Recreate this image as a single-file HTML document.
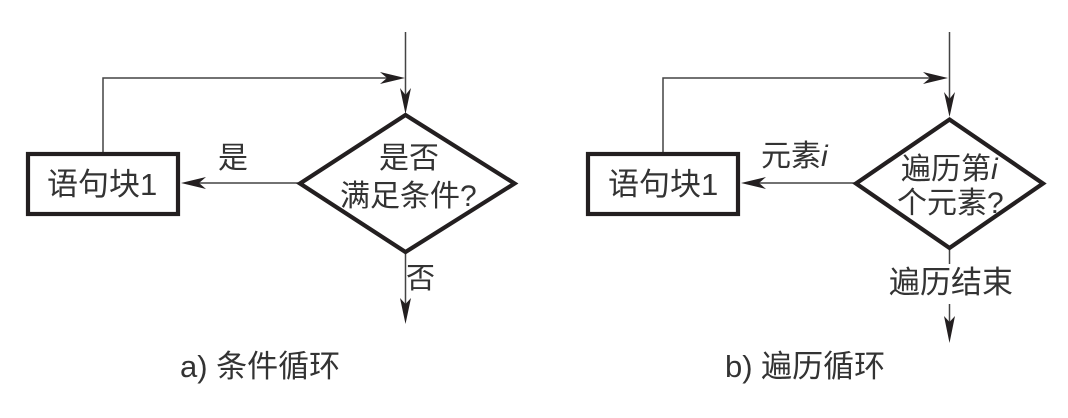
<!DOCTYPE html>
<html><head><meta charset="utf-8">
<style>
html,body{margin:0;padding:0;background:#fff;width:1068px;height:418px;overflow:hidden}
svg{display:block}
text{font-family:"Liberation Sans","Noto Sans CJK SC",sans-serif;font-size:30px;fill:#333;font-weight:400}
.ln{stroke:#444;stroke-width:1.5;fill:none}
.bx{stroke:#231f20;stroke-width:4.2;fill:#fff;stroke-linejoin:miter}
.ah{fill:#231f20;stroke:none}
</style></head><body>
<svg width="1068" height="418" viewBox="0 0 1068 418" xmlns="http://www.w3.org/2000/svg">
<!-- left -->
<path class="ln" d="M405.5 32V100M103 154V78H390M298 183H190M405.5 253V305"/>
<path class="ah" d="M405.5 114L400 88L405.5 95L411 88Z"/>
<path class="ah" d="M405 78L380 72L387 78L380 84Z"/>
<path class="ah" d="M181 183L206 177L199 183L206 189Z"/>
<path class="ah" d="M405.5 324L400 298L405.5 304L411 298Z"/>
<rect class="bx" x="28" y="154" width="150" height="60"/>
<polygon class="bx" points="405.5,115 514.5,183.5 405.5,252 300,183.5"/>
<text x="47" y="195" style="font-size:31px">语句块1</text>
<text x="218" y="168">是</text>
<text x="379" y="168">是否</text>
<text x="340" y="206">满足条件?</text>
<text x="406" y="288" style="font-size:29px">否</text>
<text x="180" y="377" style="font-size:31px">a) 条件循环</text>
<!-- right -->
<path class="ln" d="M949.5 32V100M663 154V78H930M855 183H750M949.5 250V264M949.5 304V330"/>
<path class="ah" d="M949.5 117L944 92L949.5 99L955 92Z"/>
<path class="ah" d="M948 78L923 72L930 78L923 84Z"/>
<path class="ah" d="M741 183L766 177L759 183L766 189Z"/>
<path class="ah" d="M949.5 343L944 316L949.5 322L955 316Z"/>
<rect class="bx" x="588" y="154" width="150" height="60"/>
<polygon class="bx" points="949.5,119.5 1043,183.5 949.5,248 856,183.5"/>
<text x="608" y="195" style="font-size:31px">语句块1</text>
<text x="761" y="166">元素<tspan font-style="italic">i</tspan></text>
<text x="901" y="179">遍历第<tspan font-style="italic">i</tspan></text>
<text x="897" y="213">个元素?</text>
<text x="889" y="293" style="font-size:31px">遍历结束</text>
<text x="725" y="377" style="font-size:31px">b) 遍历循环</text>
</svg>
</body></html>
